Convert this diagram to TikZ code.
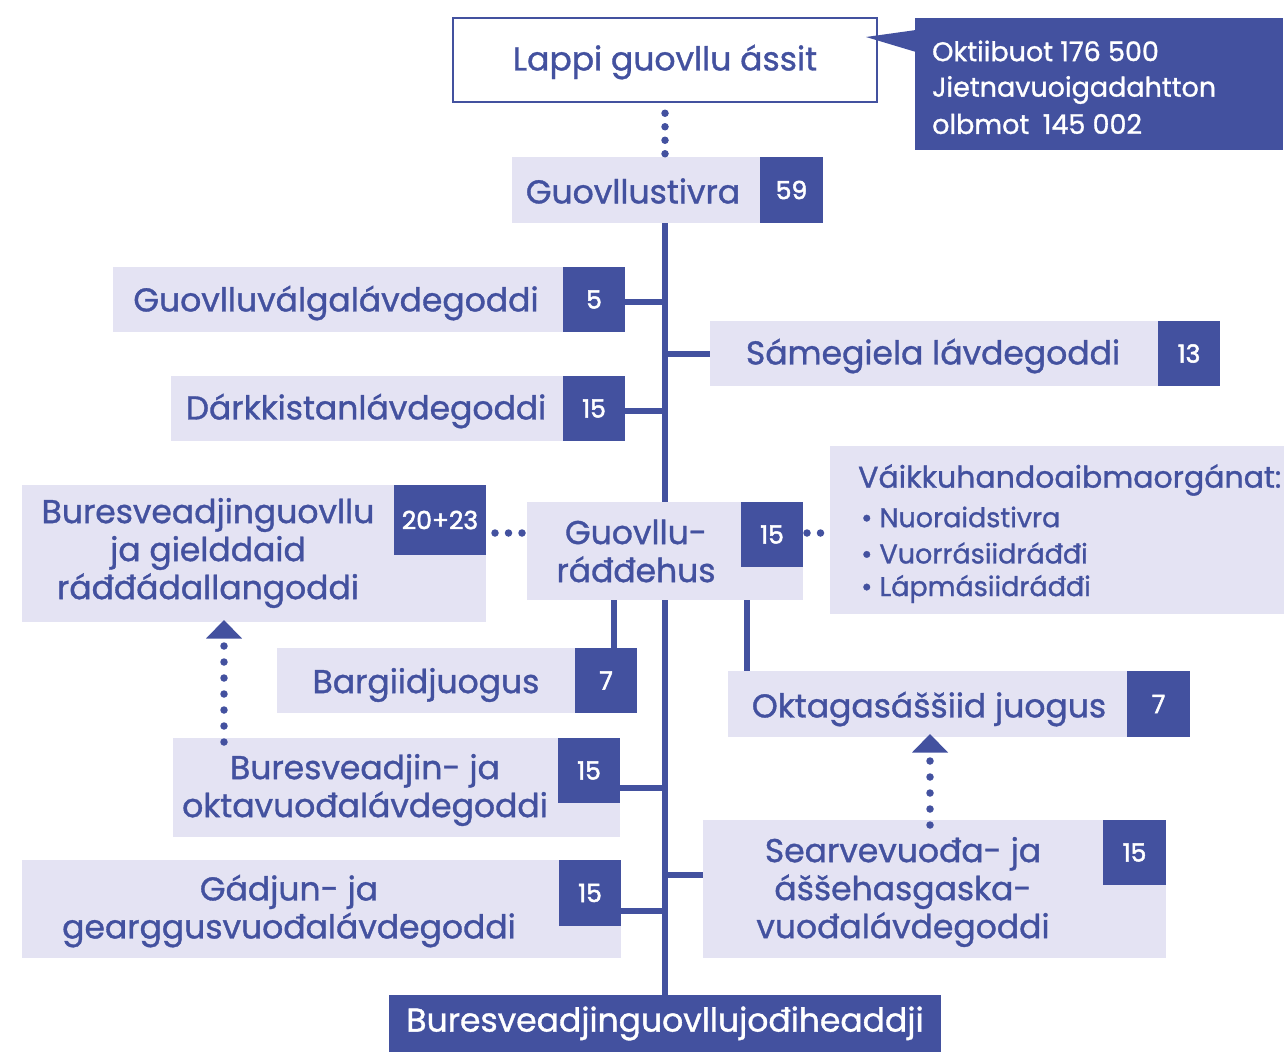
\documentclass[tikz,border=0pt]{standalone}
\usepackage{fontspec}
\setmainfont{Poppins}[FakeBold=1.1]
\usetikzlibrary{arrows.meta}
\pgfdeclarelayer{background}
\pgfsetlayers{background,main}
\definecolor{dblue}{HTML}{43519F}
\definecolor{lblue}{HTML}{E4E3F3}
\begin{document}
\begin{tikzpicture}[x=1pt,y=-1pt,
 lbox/.style={fill=lblue, inner sep=0pt, outer sep=0pt, draw=none},
 dbox/.style={fill=dblue, inner sep=0pt, outer sep=0pt, text=white, font=\fontsize{25}{29}\selectfont\addfontfeatures{FakeBold=2}},
 lbl/.style={text=dblue, font=\fontsize{33}{38}\selectfont, align=center, inner sep=0pt},
 ctext/.style={text=white, font=\fontsize{27}{30}\selectfont, inner sep=0pt, anchor=west},
 btext/.style={text=dblue, font=\fontsize{27}{30}\selectfont, inner sep=0pt, anchor=west},
 conn/.style={draw=dblue, line width=6pt},
 dotline/.style={draw=dblue, line width=7.5pt, line cap=round, dash pattern=on 0pt off 13.5pt},
 vdotline/.style={draw=dblue, line width=7.5pt, line cap=round, dash pattern=on 0pt off 16pt},
]
\useasboundingbox (0,0) rectangle (1284,1052);

% top
\node[draw=dblue, line width=2.5pt, fill=white, minimum width=424pt, minimum height=84pt, inner sep=0pt] (lappi) at (665,60) {};
\node[lbl] (lappiT) at (665,62) {Lappi guovllu ássit};
\fill[dblue] (866,37) -- (916,30) -- (916,52) -- cycle;
\node[dbox, minimum width=368pt, minimum height=132pt] (callout) at (1099,84) {};
\node[ctext] (c1) at (932,51) {Oktiibuot 176 500};
\node[ctext] (c2) at (932,90) {Jietnavuoigadahtton};
\node[ctext] (c3) at (932,124) {olbmot\enspace 145 002};

% boxes
\node[lbox, minimum width=248pt, minimum height=66pt] (stivraL) at (636,190) {};
\node[dbox, minimum width=63pt, minimum height=66pt] (stivraD) at (791.5,190) {59};
\node[lbl] (stivraT) at (633,191) {Guovllustivra};

\node[lbox, minimum width=450pt, minimum height=65pt] (valgaL) at (338,299.5) {};
\node[dbox, minimum width=62pt, minimum height=65pt] (valgaD) at (594,299.5) {5};
\node[lbl] (valgaT) at (336,303) {Guovlluválgalávdegoddi};

\node[lbox, minimum width=448pt, minimum height=65pt] (samiL) at (934,353.5) {};
\node[dbox, minimum width=62pt, minimum height=65pt] (samiD) at (1189,353.5) {13};
\node[lbl] (samiT) at (933,356) {Sámegiela lávdegoddi};

\node[lbox, minimum width=392pt, minimum height=65pt] (darkL) at (367,408.5) {};
\node[dbox, minimum width=62pt, minimum height=65pt] (darkD) at (594,408.5) {15};
\node[lbl] (darkT) at (366,411) {Dárkkistanlávdegoddi};

\node[lbox, minimum width=464pt, minimum height=137pt] (buresL) at (254,553.5) {};
\node[dbox, minimum width=92pt, minimum height=70pt] (buresD) at (440,520) {20+23};
\node[lbl] (buresT) at (208,553) {Buresveadjinguovllu\\ja gielddaid\\ráđđádallangoddi};

\node[lbox, minimum width=276pt, minimum height=98pt] (raddL) at (665,551) {};
\node[dbox, minimum width=62pt, minimum height=65pt] (raddD) at (772,534.5) {15};
\node[lbl] (raddT) at (636,551) {Guovllu-\\ráđđehus};

\node[lbox, minimum width=454pt, minimum height=168pt] (vaik) at (1057,530) {};
\node[btext, font=\fontsize{30}{34}\selectfont] (vaikT) at (858,480) {Váikkuhandoaibmaorgánat:};
\node[btext] (v1) at (861,517) {\textbullet\ Nuoraidstivra};
\node[btext] (v2) at (861,553) {\textbullet\ Vuorrásiidráđđi};
\node[btext] (v3) at (861,589) {\textbullet\ Lápmásiidráđđi};

\node[lbox, minimum width=298pt, minimum height=65pt] (bargiL) at (426,680.5) {};
\node[dbox, minimum width=62pt, minimum height=65pt] (bargiD) at (606,680.5) {7};
\node[lbl] (bargiT) at (426,685) {Bargiidjuogus};

\node[lbox, minimum width=399pt, minimum height=66pt] (oktaL) at (927.5,704) {};
\node[dbox, minimum width=63pt, minimum height=66pt] (oktaD) at (1158.5,704) {7};
\node[lbl] (oktaT) at (929,709) {Oktagasáššiid juogus};

\node[lbox, minimum width=447pt, minimum height=99pt] (buroL) at (396.5,787.5) {};
\node[dbox, minimum width=62pt, minimum height=65pt] (buroD) at (589,770.5) {15};
\node[lbl] (buroT) at (365,790) {Buresveadjin- ja\\oktavuođalávdegoddi};

\node[lbox, minimum width=463pt, minimum height=138pt] (searveL) at (934.5,889) {};
\node[dbox, minimum width=63pt, minimum height=65pt] (searveD) at (1134.5,852.5) {15};
\node[lbl] (searveT) at (903,892) {Searvevuođa- ja\\áššehasgaska-\\vuođalávdegoddi};

\node[lbox, minimum width=599pt, minimum height=98pt] (gadjunL) at (321.5,909) {};
\node[dbox, minimum width=62pt, minimum height=66pt] (gadjunD) at (590,893) {15};
\node[lbl] (gadjunT) at (289,911) {Gádjun- ja\\gearggusvuođalávdegoddi};

\node[dbox, minimum width=552pt, minimum height=57pt, font=\fontsize{33}{38}\selectfont] (jod) at (665,1023.5) {Buresveadjinguovllujođiheaddji};

% arrow heads
\fill[dblue] (224,620) -- (242,638.5) -- (206,638.5) -- cycle;
\fill[dblue] (930,734) -- (948,752.5) -- (912,752.5) -- cycle;
\coordinate (a1) at (224,646);
\coordinate (a2) at (930,761);

% connectors behind boxes
\begin{pgfonlayer}{background}
\draw[conn] (stivraL.south -| jod.north) -- (jod.north);
\draw[conn] ([yshift=-2.5pt]valgaD.east) -- ([yshift=-2.5pt]valgaD.east -| jod.north);
\draw[conn] (samiL.west) -- (samiL.west -| jod.north);
\draw[conn] ([yshift=-2.5pt]darkD.east) -- ([yshift=-2.5pt]darkD.east -| jod.north);
\draw[conn] (buroL.east) -- (buroL.east -| jod.north);
\draw[conn] ([yshift=14pt]searveL.west) -- ([yshift=14pt]searveL.west -| jod.north);
\draw[conn] ([yshift=-2pt]gadjunL.east) -- ([yshift=-2pt]gadjunL.east -| jod.north);
\draw[conn] ([xshift=-51pt]raddL.south) coordinate (r1) -- (r1 |- bargiL.north);
\draw[conn] ([xshift=82pt]raddL.south) coordinate (r2) -- (r2 |- oktaL.north);
\end{pgfonlayer}

% dotted connectors
\draw[dotline] ([yshift=-10pt]lappi.south) -- ([yshift=2pt]lappi.south |- stivraL.north);
\draw[dotline] ([xshift=9pt,yshift=-13pt]buresD.east) -- ([xshift=-4pt,yshift=18pt]raddL.west);
\draw[dotline] ([xshift=4pt,yshift=1.5pt]raddD.east) -- ([xshift=-9pt,yshift=1.5pt]raddD.east -| vaik.west);
\draw[vdotline] (a1) -- ([yshift=-6pt]a1 |- buroL.north);
\draw[vdotline] (a2) -- ([yshift=-6pt]a2 |- searveL.north);
\end{tikzpicture}
\end{document}
